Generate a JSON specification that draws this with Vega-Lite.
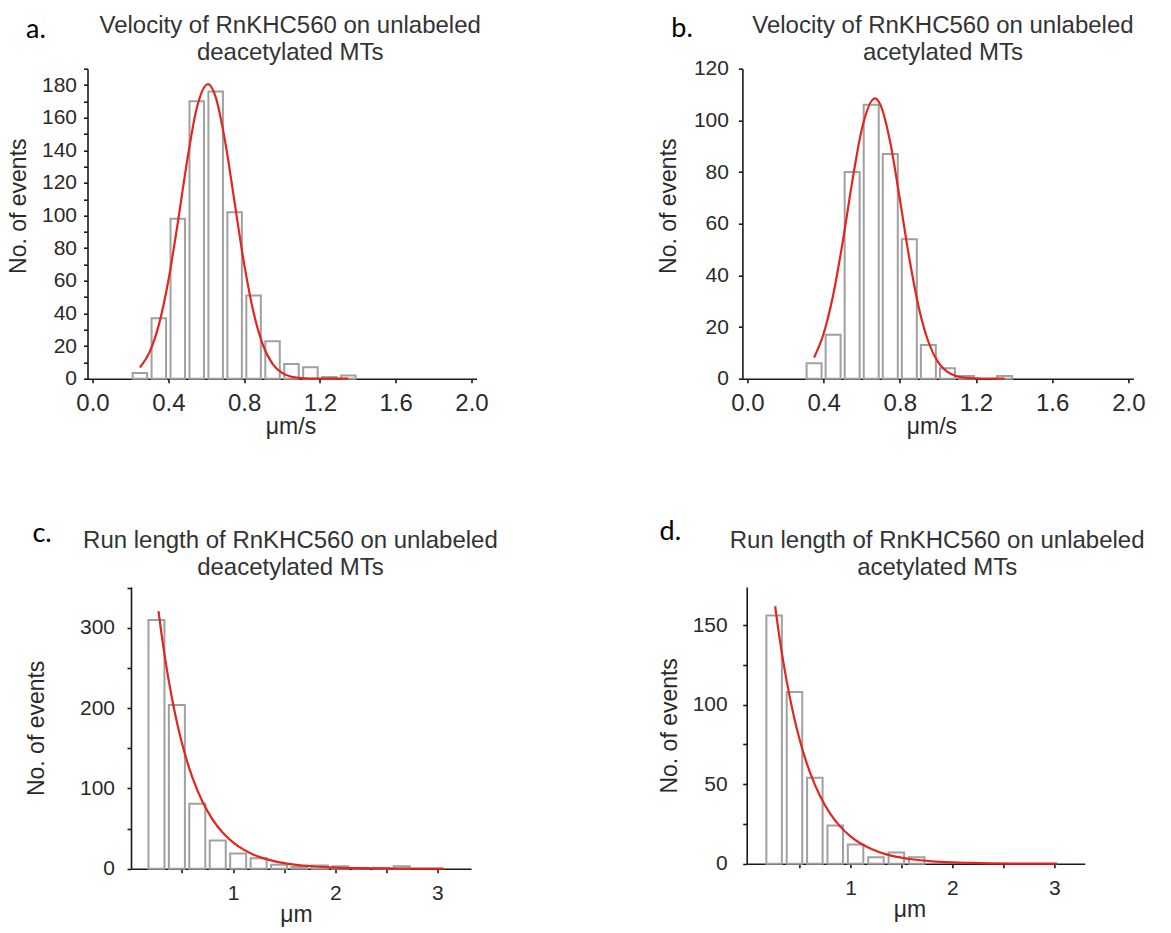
{
  "$schema": "https://vega.github.io/schema/vega-lite/v6.json",
  "padding": {"left": 6.5, "top": 12.7, "right": 5, "bottom": 2},
  "background": "white",
  "datasets": {
    "velDeac": [
      {"v": 0.25, "n": 3.5}, {"v": 0.35, "n": 37}, {"v": 0.45, "n": 98}, {"v": 0.55, "n": 170},
      {"v": 0.65, "n": 176}, {"v": 0.75, "n": 102}, {"v": 0.85, "n": 51}, {"v": 0.95, "n": 23},
      {"v": 1.05, "n": 9}, {"v": 1.15, "n": 7}, {"v": 1.25, "n": 1}, {"v": 1.35, "n": 2}
    ],
    "velDeacFit": [
      {"v": 0.25, "n": 6.9}, {"v": 0.30, "n": 16.0}, {"v": 0.35, "n": 33.0}, {"v": 0.40, "n": 59.9},
      {"v": 0.45, "n": 95.5}, {"v": 0.50, "n": 134.0}, {"v": 0.55, "n": 165.7}, {"v": 0.61, "n": 180.5},
      {"v": 0.65, "n": 172.6}, {"v": 0.70, "n": 145.4}, {"v": 0.75, "n": 107.9}, {"v": 0.80, "n": 70.5},
      {"v": 0.85, "n": 40.5}, {"v": 0.90, "n": 20.5}, {"v": 0.95, "n": 9.1}, {"v": 1.00, "n": 3.6},
      {"v": 1.05, "n": 1.2}, {"v": 1.10, "n": 0.4}, {"v": 1.15, "n": 0.1}, {"v": 1.20, "n": 0},
      {"v": 1.30, "n": 0}, {"v": 1.35, "n": 0}
    ],
    "velAc": [
      {"v": 0.35, "n": 6}, {"v": 0.45, "n": 17}, {"v": 0.55, "n": 80}, {"v": 0.65, "n": 106},
      {"v": 0.75, "n": 87}, {"v": 0.85, "n": 54}, {"v": 0.95, "n": 13}, {"v": 1.05, "n": 4},
      {"v": 1.15, "n": 1}, {"v": 1.35, "n": 1}
    ],
    "velAcFit": [
      {"v": 0.35, "n": 8.2}, {"v": 0.40, "n": 17.4}, {"v": 0.45, "n": 32.3}, {"v": 0.50, "n": 52.8},
      {"v": 0.55, "n": 76.1}, {"v": 0.60, "n": 96.4}, {"v": 0.67, "n": 108.5}, {"v": 0.70, "n": 105.7},
      {"v": 0.75, "n": 91.4}, {"v": 0.80, "n": 69.6}, {"v": 0.85, "n": 46.6}, {"v": 0.90, "n": 27.5},
      {"v": 0.95, "n": 14.3}, {"v": 1.00, "n": 6.5}, {"v": 1.05, "n": 2.6}, {"v": 1.10, "n": 0.9},
      {"v": 1.15, "n": 0.3}, {"v": 1.20, "n": 0.1}, {"v": 1.25, "n": 0}, {"v": 1.35, "n": 0}
    ],
    "runDeac": [
      {"v": 0.25, "n": 310}, {"v": 0.45, "n": 204}, {"v": 0.65, "n": 81}, {"v": 0.85, "n": 35},
      {"v": 1.05, "n": 19}, {"v": 1.25, "n": 13}, {"v": 1.45, "n": 5}, {"v": 1.65, "n": 2},
      {"v": 1.85, "n": 4}, {"v": 2.05, "n": 3}, {"v": 2.25, "n": 1}, {"v": 2.45, "n": 1},
      {"v": 2.65, "n": 3}
    ],
    "runDeacFit": [
      {"v": 0.27, "n": 320.9}, {"v": 0.30, "n": 292.1}, {"v": 0.35, "n": 249.9}, {"v": 0.40, "n": 213.7},
      {"v": 0.45, "n": 182.9}, {"v": 0.50, "n": 156.4}, {"v": 0.55, "n": 133.8}, {"v": 0.60, "n": 114.4},
      {"v": 0.70, "n": 83.7}, {"v": 0.80, "n": 61.2}, {"v": 0.90, "n": 44.8}, {"v": 1.00, "n": 32.8},
      {"v": 1.10, "n": 24.0}, {"v": 1.20, "n": 17.5}, {"v": 1.30, "n": 12.8}, {"v": 1.40, "n": 9.4},
      {"v": 1.60, "n": 5.0}, {"v": 1.80, "n": 2.7}, {"v": 2.00, "n": 1.4}, {"v": 2.20, "n": 0.7},
      {"v": 2.40, "n": 0.4}, {"v": 2.60, "n": 0.2}, {"v": 2.80, "n": 0.1}, {"v": 3.06, "n": 0}
    ],
    "runAc": [
      {"v": 0.25, "n": 156}, {"v": 0.45, "n": 108}, {"v": 0.65, "n": 54}, {"v": 0.85, "n": 24},
      {"v": 1.05, "n": 12}, {"v": 1.25, "n": 4}, {"v": 1.45, "n": 7}, {"v": 1.65, "n": 4}
    ],
    "runAcFit": [
      {"v": 0.26, "n": 161.9}, {"v": 0.30, "n": 143.4}, {"v": 0.35, "n": 123.3}, {"v": 0.40, "n": 106.0},
      {"v": 0.45, "n": 91.0}, {"v": 0.50, "n": 78.2}, {"v": 0.55, "n": 67.2}, {"v": 0.60, "n": 57.8},
      {"v": 0.70, "n": 42.7}, {"v": 0.80, "n": 31.5}, {"v": 0.90, "n": 23.3}, {"v": 1.00, "n": 17.2},
      {"v": 1.10, "n": 12.7}, {"v": 1.20, "n": 9.4}, {"v": 1.30, "n": 6.9}, {"v": 1.40, "n": 5.1},
      {"v": 1.60, "n": 2.8}, {"v": 1.80, "n": 1.5}, {"v": 2.00, "n": 0.8}, {"v": 2.20, "n": 0.5},
      {"v": 2.40, "n": 0.2}, {"v": 2.60, "n": 0.1}, {"v": 2.80, "n": 0.1}, {"v": 3.03, "n": 0}
    ]
  },
  "columns": 2,
  "bounds": "flush",
  "spacing": {"row": 208.3, "column": 265.9},
  "concat": [
    {
      "width": 389, "height": 310,
      "title": {"text": ["Velocity of RnKHC560 on unlabeled", "deacetylated MTs"], "dx": 8.2, "offset": -48.6},
      "resolve": {"axis": {"y": "independent"}},
      "layer": [
        {
          "data": {"name": "velDeac"},
          "mark": {"type": "bar", "width": 14.5, "fill": "white", "stroke": "#a0a0a0", "strokeWidth": 2},
          "encoding": {
            "x": {"field": "v", "type": "quantitative", "title": "μm/s",
                  "scale": {"domain": [0, 2], "nice": false, "zero": false},
                  "axis": {"values": [0,0.1,0.2,0.3,0.4,0.5,0.6,0.7,0.8,0.9,1.0,1.1,1.2,1.3,1.4,1.5,1.6,1.7,1.8,1.9,2.0],
                           "labelExpr": "round(datum.value*10) % 4 == 0 ? format(datum.value, '.1f') : ''",
                           "labelOverlap": false, "labelFontSize": 24, "labelPadding": 9, "titleFontSize": 23, "titlePadding": 0, "titleX": 203}},
            "y": {"field": "n", "type": "quantitative", "title": "No. of events",
                  "scale": {"domain": [0, 190], "nice": false},
                  "axis": {"orient": "left", "values": [0,20,40,60,80,100,120,140,160,180],
                           "labelOverlap": false, "labelFontSize": 21, "labelPadding": 7, "titleFontSize": 23, "titlePadding": 11, "titleY": 137}}
          }
        },
        {
          "data": {"name": "velDeacFit"},
          "mark": {"type": "line", "color": "#e2261e", "strokeWidth": 2.2, "interpolate": "monotone"},
          "encoding": {
            "x": {"field": "v", "type": "quantitative", "title": "μm/s"},
            "y": {"field": "n", "type": "quantitative",
                  "axis": {"orient": "left", "values": [10,30,50,70,90,110,130,150,170,190], "labels": false, "domain": false, "title": null}}
          }
        },
        {
          "data": {"values": [{"label": "a."}]},
          "mark": {"type": "text", "font": "Lato", "fontSize": 27, "align": "left", "baseline": "alphabetic", "color": "#000000"},
          "encoding": {"x": {"datum": -0.3506}, "y": {"datum": 208.8, "axis": null}, "text": {"field": "label"}}
        }
      ]
    },
    {
      "width": 391, "height": 310,
      "title": {"text": ["Velocity of RnKHC560 on unlabeled", "acetylated MTs"], "dx": 5, "offset": -49.6},
      "layer": [
        {
          "data": {"name": "velAc"},
          "mark": {"type": "bar", "width": 15, "fill": "white", "stroke": "#a0a0a0", "strokeWidth": 2},
          "encoding": {
            "x": {"field": "v", "type": "quantitative", "title": "μm/s",
                  "scale": {"domain": [0, 2], "nice": false, "zero": false},
                  "axis": {"values": [0,0.1,0.2,0.3,0.4,0.5,0.6,0.7,0.8,0.9,1.0,1.1,1.2,1.3,1.4,1.5,1.6,1.7,1.8,1.9,2.0],
                           "labelExpr": "round(datum.value*10) % 4 == 0 ? format(datum.value, '.1f') : ''",
                           "labelOverlap": false, "labelFontSize": 24, "labelPadding": 9, "titleFontSize": 23, "titlePadding": 0, "titleX": 189}},
            "y": {"field": "n", "type": "quantitative", "title": "No. of events",
                  "scale": {"domain": [0, 120], "nice": false},
                  "axis": {"values": [0,10,20,30,40,50,60,70,80,90,100,110,120],
                           "labelExpr": "datum.value % 20 == 0 ? datum.label : ''",
                           "labelFontSize": {"condition": {"test": "datum.value % 20 != 0", "value": 0}, "value": 21},
                           "labelOverlap": false, "labelPadding": 10, "titleFontSize": 23, "titlePadding": 12.5, "titleY": 137}}
          }
        },
        {
          "data": {"name": "velAcFit"},
          "mark": {"type": "line", "color": "#e2261e", "strokeWidth": 2.2, "interpolate": "monotone"},
          "encoding": {
            "x": {"field": "v", "type": "quantitative", "title": "μm/s"},
            "y": {"field": "n", "type": "quantitative", "title": "No. of events"}
          }
        },
        {
          "data": {"values": [{"label": "b."}]},
          "mark": {"type": "text", "font": "Lato", "fontSize": 27, "align": "left", "baseline": "alphabetic", "color": "#000000"},
          "encoding": {"x": {"datum": -0.3995}, "y": {"datum": 132.3}, "text": {"field": "label"}}
        }
      ]
    },
    {
      "width": 383.5, "height": 281.7,
      "title": {"text": ["Run length of RnKHC560 on unlabeled", "deacetylated MTs"], "dx": 11.2, "offset": -59.9},
      "layer": [
        {
          "data": {"name": "runDeac"},
          "mark": {"type": "bar", "width": 16, "fill": "white", "stroke": "#a0a0a0", "strokeWidth": 2},
          "encoding": {
            "x": {"field": "v", "type": "quantitative", "title": "μm",
                  "scale": {"domain": [0.05, 3.28], "range": [43.5, 383.5], "nice": false, "zero": false},
                  "axis": {"values": [0.5, 1, 1.5, 2, 2.5, 3],
                           "labelExpr": "datum.value % 1 == 0 ? format(datum.value, 'd') : ''",
                           "labelOverlap": false, "labelFontSize": 21, "labelPadding": 10, "titleFontSize": 23, "titlePadding": 0, "titleX": 208.5}},
            "y": {"field": "n", "type": "quantitative", "title": "No. of events",
                  "scale": {"domain": [0, 351], "nice": false},
                  "axis": {"values": [0, 50, 100, 150, 200, 250, 300, 350], "offset": -43.5,
                           "labelExpr": "datum.value % 100 == 0 ? datum.label : ''",
                           "labelFontSize": {"condition": {"test": "datum.value % 100 != 0", "value": 0}, "value": 21},
                           "labelOverlap": false, "labelPadding": 12.5, "titleFontSize": 23, "titlePadding": 31}}
          }
        },
        {
          "data": {"name": "runDeacFit"},
          "mark": {"type": "line", "color": "#e2261e", "strokeWidth": 2.2, "interpolate": "monotone"},
          "encoding": {
            "x": {"field": "v", "type": "quantitative", "title": "μm"},
            "y": {"field": "n", "type": "quantitative", "title": "No. of events"}
          }
        },
        {
          "data": {"values": [{"label": "c."}]},
          "mark": {"type": "text", "font": "Lato", "fontSize": 27, "align": "left", "baseline": "alphabetic", "color": "#000000"},
          "encoding": {"x": {"datum": -0.9637}, "y": {"datum": 407.2}, "text": {"field": "label"}}
        }
      ]
    },
    {
      "width": 342.3, "height": 276.7,
      "title": {"text": ["Run length of RnKHC560 on unlabeled", "acetylated MTs"], "dx": 23.6, "offset": -61.5},
      "layer": [
        {
          "data": {"name": "runAc"},
          "mark": {"type": "bar", "width": 15.5, "fill": "white", "stroke": "#a0a0a0", "strokeWidth": 2},
          "encoding": {
            "x": {"field": "v", "type": "quantitative", "title": "μm",
                  "scale": {"domain": [0.03, 3.25], "range": [4.3, 342.3], "nice": false, "zero": false},
                  "axis": {"values": [0.5, 1, 1.5, 2, 2.5, 3],
                           "labelExpr": "datum.value % 1 == 0 ? format(datum.value, 'd') : ''",
                           "labelOverlap": false, "labelFontSize": 21, "labelPadding": 10, "titleFontSize": 23, "titlePadding": 0, "titleX": 167}},
            "y": {"field": "n", "type": "quantitative", "title": "No. of events",
                  "scale": {"domain": [0, 174], "nice": false},
                  "axis": {"values": [0, 25, 50, 75, 100, 125, 150], "offset": -4.3,
                           "labelExpr": "datum.value % 50 == 0 ? datum.label : ''",
                           "labelFontSize": {"condition": {"test": "datum.value % 50 != 0", "value": 0}, "value": 21},
                           "labelOverlap": false, "labelPadding": 15.5, "titleFontSize": 23, "titlePadding": 10.5}}
          }
        },
        {
          "data": {"name": "runAcFit"},
          "mark": {"type": "line", "color": "#e2261e", "strokeWidth": 2.2, "interpolate": "monotone"},
          "encoding": {
            "x": {"field": "v", "type": "quantitative", "title": "μm"},
            "y": {"field": "n", "type": "quantitative", "title": "No. of events"}
          }
        },
        {
          "data": {"values": [{"label": "d."}]},
          "mark": {"type": "text", "font": "Lato", "fontSize": 27, "align": "left", "baseline": "alphabetic", "color": "#000000"},
          "encoding": {"x": {"datum": -0.874}, "y": {"datum": 203.3}, "text": {"field": "label"}}
        }
      ]
    }
  ],
  "config": {
    "view": {"stroke": null},
    "font": "Liberation Sans",
    "title": {"font": "Liberation Sans", "fontSize": 24, "fontWeight": "normal", "color": "#333333", "lineHeight": 27, "anchor": "middle"},
    "axis": {
      "labelFont": "Liberation Sans", "titleFont": "Liberation Sans", "titleFontWeight": "normal",
      "domainColor": "#1a1a1a", "domainWidth": 1.6, "tickColor": "#1a1a1a", "tickWidth": 1.6, "tickSize": 4,
      "labelColor": "#2a2a2a", "titleColor": "#2a2a2a", "grid": false,
      "labelFlush": false, "labelOverlap": false, "labelBound": false
    }
  }
}
